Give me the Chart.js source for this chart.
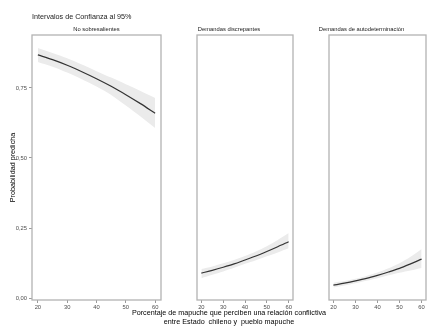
<!DOCTYPE html>
<html>
<head>
<meta charset="utf-8">
<script src="https://cdn.jsdelivr.net/npm/chart.js@4.4.0/dist/chart.umd.min.js"></script>
<style>
  body { margin: 0; background: #fff; width: 435px; height: 333px; overflow: hidden; position: relative; }
  canvas { position: absolute; top: 0; }
</style>
</head>
<body>
<canvas id="labels" width="435" height="333" style="left:0px"></canvas>
<canvas id="c1" width="163" height="311" style="left:0px"></canvas>
<canvas id="c2" width="132" height="311" style="left:163px"></canvas>
<canvas id="c3" width="133" height="311" style="left:295px"></canvas>

<script>
// predicted probability by % perceiving conflict, with 95% CI
const pct = [20, 25, 30, 35, 40, 45, 50, 55, 60];

const fitNoSobre = [0.868, 0.851, 0.831, 0.808, 0.783, 0.756, 0.726, 0.694, 0.660];
const hiNoSobre  = [0.893, 0.875, 0.856, 0.834, 0.810, 0.787, 0.763, 0.739, 0.714];
const loNoSobre  = [0.843, 0.826, 0.805, 0.781, 0.755, 0.725, 0.687, 0.648, 0.607];

const fitDiscrep = [0.089, 0.099, 0.110, 0.122, 0.136, 0.150, 0.166, 0.183, 0.201];
const hiDiscrep  = [0.104, 0.113, 0.124, 0.136, 0.150, 0.166, 0.185, 0.207, 0.232];
const loDiscrep  = [0.071, 0.083, 0.095, 0.108, 0.122, 0.135, 0.149, 0.163, 0.178];

const fitAutodet = [0.046, 0.053, 0.061, 0.070, 0.081, 0.093, 0.106, 0.122, 0.139];
const hiAutodet  = [0.055, 0.061, 0.069, 0.079, 0.091, 0.106, 0.124, 0.147, 0.175];
const loAutodet  = [0.038, 0.045, 0.053, 0.062, 0.071, 0.081, 0.090, 0.098, 0.107];

const xTicks = [20, 30, 40, 50, 60];
const yTicks = [0, 0.25, 0.5, 0.75];

const panelTitles = ["No sobresalientes", "Demandas discrepantes", "Demandas de autodeterminación"];
const mainTitle = "Intervalos de Confianza al 95%";
const xTitle = ["Porcentaje de mapuche que perciben una relación conflictiva", "entre Estado  chileno y  pueblo mapuche"];

const pts = (ys) => pct.map((x, i) => ({ x: x, y: ys[i] }));

// page texts: main title, strip labels, x title
const lc = document.getElementById("labels").getContext("2d");
lc.fillStyle = "#1a1a1a";
lc.textBaseline = "middle";
lc.font = "7.2px 'Liberation Sans'";
lc.textAlign = "left";
lc.fillText(mainTitle, 32, 17);
lc.font = "5.8px 'Liberation Sans'";
lc.textAlign = "center";
[96.5, 229, 361.5].forEach((cx, i) => lc.fillText(panelTitles[i], cx, 29.5));
lc.fillStyle = "#000";
lc.font = "7.2px 'Liberation Sans'";
lc.fillText(xTitle[0], 229, 313);
lc.fillText(xTitle[1], 229, 322);

// panel border all round
const boxPlugin = {
  id: "box",
  afterDraw(chart) {
    const a = chart.chartArea;
    const ctx = chart.ctx;
    ctx.save();
    ctx.strokeStyle = "#b3b3b3";
    ctx.lineWidth = 1.3;
    ctx.strokeRect(a.left, a.top, a.right - a.left, a.bottom - a.top);
    ctx.restore();
  }
};

function makePanel(id, fit, hi, lo, first) {
  const config = {
    type: "line",
    data: {
      datasets: [
        { data: pts(hi), borderWidth: 0, pointRadius: 0, fill: "+1", backgroundColor: "#ebebeb", tension: 0.3, order: 2 },
        { data: pts(lo), borderWidth: 0, pointRadius: 0, fill: false, tension: 0.3, order: 2 },
        { data: pts(fit), borderColor: "#333333", borderWidth: 1.2, pointRadius: 0, fill: false, tension: 0.3, order: 0 },
      ],
    },
    options: {
      responsive: false,
      animation: false,
      layout: { padding: { left: first ? 0 : 2, right: 2, top: 35, bottom: 0 } },
      plugins: { legend: { display: false }, tooltip: { enabled: false } },
      scales: {
        x: {
          type: "linear",
          min: 18,
          max: 62,
          afterBuildTicks: (s) => { s.ticks = xTicks.map((v) => ({ value: v })); },
          afterFit: (s) => { s.height = 11; },
          grid: { drawOnChartArea: false, tickLength: 3, color: "#999999" },
          border: { display: false },
          ticks: { color: "#4d4d4d", font: { size: 5.8, family: "Liberation Sans" }, padding: 1, maxRotation: 0 },
        },
        y: {
          type: "linear",
          display: first,
          min: -0.007,
          max: 0.939,
          afterBuildTicks: (s) => { s.ticks = yTicks.map((v) => ({ value: v })); },
          afterFit: (s) => { s.width = 32; },
          grid: { drawOnChartArea: false, tickLength: 3, color: "#999999" },
          border: { display: false },
          ticks: {
            color: "#4d4d4d",
            font: { size: 5.8, family: "Liberation Sans" },
            padding: 2,
            callback: (v) => v.toFixed(2).replace(".", ","),
          },
          title: {
            display: true,
            text: "Probabilidad predicha",
            color: "#000",
            font: { size: 7.2, family: "Liberation Sans" },
            padding: { top: 9, bottom: 0 },
          },
        },
      },
    },
    plugins: [boxPlugin],
  };
  const ctx = document.getElementById(id).getContext("2d");
  return new Chart(ctx, config);
}

const chart1 = makePanel("c1", fitNoSobre, hiNoSobre, loNoSobre, true);
const chart2 = makePanel("c2", fitDiscrep, hiDiscrep, loDiscrep, false);
const chart3 = makePanel("c3", fitAutodet, hiAutodet, loAutodet, false);
</script>
</body>
</html>
